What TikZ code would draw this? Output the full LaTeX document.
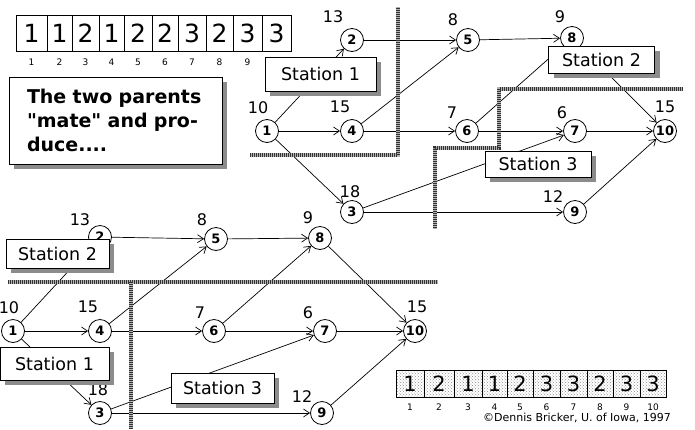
\documentclass[tikz,border=0pt]{standalone}
\usepackage{fontspec}
\setmainfont{DejaVu Sans}
\newfontfamily\notefont{DejaVu Sans}
\usetikzlibrary{arrows.meta,shadows,patterns}

\begin{document}
\begin{tikzpicture}[x=1pt,y=-1pt,
  op/.style={circle,draw,fill=white,line width=0.8pt,minimum size=23pt,inner sep=0pt,font=\fontsize{13}{13}\selectfont\bfseries},
  dur/.style={inner sep=0pt,font=\fontsize{16}{16}\selectfont},
  link/.style={line width=0.7pt,-{Straight Barb[length=6pt,width=8pt]}},
  boxshadow/.style={drop shadow={shadow xshift=5pt,shadow yshift=-5pt,fill=black!45,opacity=1}},
  stationbox/.style={draw,fill=white,line width=0.8pt,minimum width=106pt,minimum height=29pt,inner sep=0pt,font=\fontsize{17.5}{17.5}\selectfont,boxshadow},
  wall/.style={line width=3.5pt,black!30,postaction={draw,black!80,line width=3.5pt,dash pattern=on 1pt off 1pt}},
  gene/.style={draw,line width=0.8pt,minimum height=36pt,inner sep=0pt,font=\fontsize{25}{25}\selectfont},
  locus/.style={inner sep=0pt,font=\fontsize{9}{9}\selectfont}]

\useasboundingbox (0,0) rectangle (695,429);

% Parent chromosome
\foreach \a/\b/\g [count=\i] in {16/47/1,47/72/1,72/99/2,99/124/1,124/152/2,152/178/2,178/206/3,206/233/2,233/262/3,262/291/3}{
  \node[gene,minimum width={(\b-\a)*1pt}] (p\i) at ({(\a+\b)/2},33) {\g};
  \node[locus] (pl\i) at ({(\a+\b)/2},62) {\i};
}

% Note
\node[draw,fill=white,line width=0.8pt,minimum width=213pt,minimum height=87pt,text width=177pt,inner xsep=18pt,align=left,font=\notefont\fontsize{19}{24}\selectfont\bfseries,boxshadow] (note) at (115.5,120.5) {The two parents\\"mate" and pro-\\duce....};

% Upper network
\node[op] (a1) at (267,131) {1};
\node[op] (a2) at (352,40) {2};
\node[op] (a3) at (352,212) {3};
\node[op] (a4) at (352,131) {4};
\node[op] (a5) at (468,40) {5};
\node[op] (a6) at (467,131) {6};
\node[op] (a7) at (575,131) {7};
\node[op] (a8) at (572,38) {8};
\node[op] (a9) at (575,212) {9};
\node[op] (a10) at (665,131) {10};

\node[dur] (a1t) at (258,108) {10};
\node[dur] (a2t) at (333,17) {13};
\node[dur] (a4t) at (340,107) {15};
\node[dur] (a5t) at (453,20) {8};
\node[dur] (a8t) at (560,17) {9};
\node[dur] (a6t) at (452,113) {7};
\node[dur] (a7t) at (562,113) {6};
\node[dur] (a10t) at (665,107) {15};
\node[dur] (a3t) at (350,192) {18};
\node[dur] (a9t) at (553,197) {12};

\draw[link] (a1) -- (a2);
\draw[link] (a1) -- (a4);
\draw[link] (a1) -- (a3);
\draw[link] (a2) -- (a5);
\draw[link] (a4) -- (a5);
\draw[link] (a4) -- (a6);
\draw[link] (a5) -- (a8);
\draw[link] (a6) -- (a8);
\draw[link] (a8) -- (a10);
\draw[link] (a6) -- (a7);
\draw[link] (a7) -- (a10);
\draw[link] (a3) -- (a7);
\draw[link] (a3) -- (a9);
\draw[link] (a9) -- (a10);

\draw[wall] (250,155) -- (398,155) -- (398,7);
\draw[wall] (683,89) -- (499,89) -- (499,148) -- (435,148) -- (435,229);

\node[stationbox,minimum width=111pt,minimum height=34pt] (s1a) at (320.5,74) {Station 1};
\node[stationbox,minimum height=27pt] (s2a) at (601.5,59.5) {Station 2};
\node[stationbox,minimum height=26pt] (s3a) at (538,164) {Station 3};

% Lower network
\node[op] (b1) at (13,331) {1};
\node[op] (b2) at (100,237) {2};
\node[op] (b3) at (100,413) {3};
\node[op] (b4) at (100,331) {4};
\node[op] (b5) at (216,239) {5};
\node[op] (b6) at (214,331) {6};
\node[op] (b7) at (325,331) {7};
\node[op] (b8) at (320,238) {8};
\node[op] (b9) at (322,413) {9};
\node[op] (b10) at (415,331) {10};

\node[dur] (b1t) at (9,308) {10};
\node[dur] (b2t) at (80,220) {13};
\node[dur] (b4t) at (88,307) {15};
\node[dur] (b5t) at (202,220) {8};
\node[dur] (b8t) at (308,218) {9};
\node[dur] (b6t) at (200,313) {7};
\node[dur] (b7t) at (308,313) {6};
\node[dur] (b10t) at (417,307) {15};
\node[dur] (b3t) at (98,390) {18};
\node[dur] (b9t) at (302,397) {12};

\draw[link] (b1) -- (b2);
\draw[link] (b1) -- (b4);
\draw[link] (b1) -- (b3);
\draw[link] (b2) -- (b5);
\draw[link] (b4) -- (b5);
\draw[link] (b4) -- (b6);
\draw[link] (b5) -- (b8);
\draw[link] (b6) -- (b8);
\draw[link] (b8) -- (b10);
\draw[link] (b6) -- (b7);
\draw[link] (b7) -- (b10);
\draw[link] (b3) -- (b7);
\draw[link] (b3) -- (b9);
\draw[link] (b9) -- (b10);

\draw[wall] (8,282) -- (438,282);
\draw[wall] (131,282) -- (131,429);

\node[stationbox,minimum width=103pt] (s2b) at (57.5,253.5) {Station 2};
\node[stationbox,minimum width=109pt,minimum height=33pt] (s1b) at (54.5,363.5) {Station 1};
\node[stationbox,minimum width=103pt,minimum height=30pt] (s3b) at (222.5,388) {Station 3};

% Offspring chromosome
\foreach \a/\b/\g [count=\i] in {396/424/1,424/454/2,454/482/1,482/507/1,507/533/2,533/560/3,560/587/3,587/613/2,613/640/3,640/666/3}{
  \node[gene,minimum width={(\b-\a)*1pt},minimum height=27pt,pattern=crosshatch dots,pattern color=black!45,font=\fontsize{21}{21}\selectfont] (c\i) at ({(\a+\b)/2},383.5) {\g};
  \node[locus] (cl\i) at ({(\a+\b)/2},407) {\i};
}
\node[inner sep=0pt,font=\fontsize{11}{11}\selectfont] (credit) at (577,418) {\textcopyright Dennis Bricker, U. of Iowa, 1997};

\end{tikzpicture}
\end{document}
